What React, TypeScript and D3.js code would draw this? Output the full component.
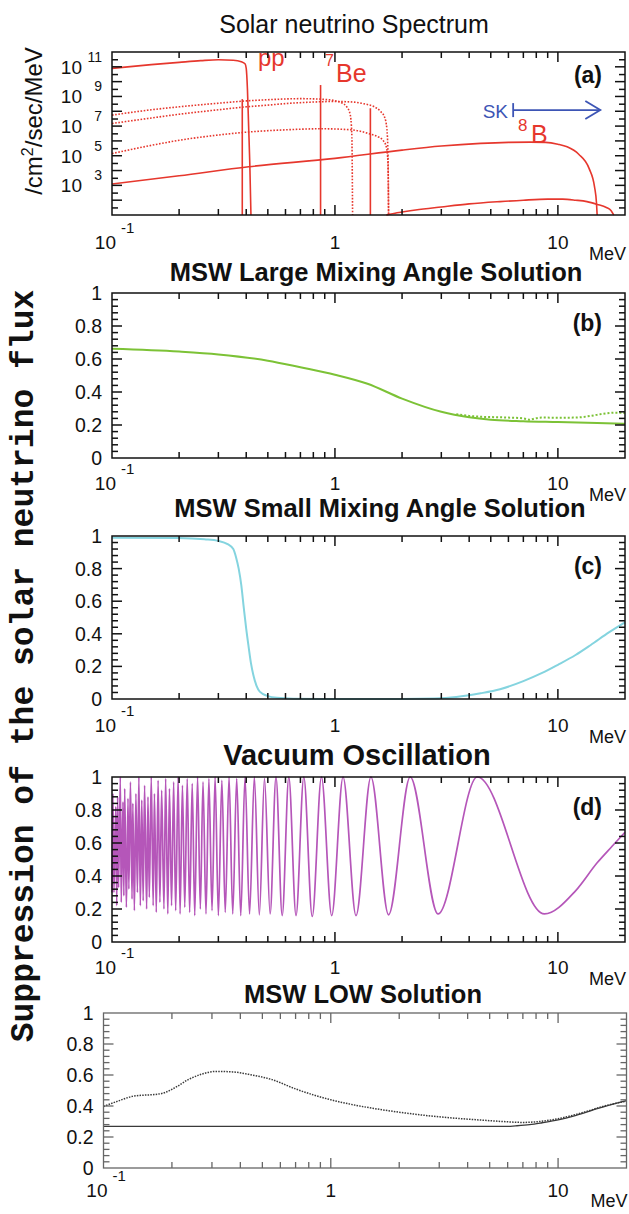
import React from "react";
import * as d3 from "d3";

type Pt = [number, number];

const SANS = "'Liberation Sans', Arial, Helvetica, sans-serif";
const MONO = "'Liberation Mono', 'Courier New', monospace";
const RED = "#e6372d";
const GREEN = "#7cc236";
const CYAN = "#84d4df";
const MAGENTA = "#b556b9";
const BLUE = "#3d55b5";
const DARK = "#3a3a3a";

// ---------- axis ticks / labels ----------
const X_MAJOR = [1, 10];
const X_MINOR = [0.2, 0.3, 0.4, 0.5, 0.6, 0.7, 0.8, 0.9, 2, 3, 4, 5, 6, 7, 8, 9];
const X_LABELS = [
  { v: 0.1, base: "10", exp: "-1" },
  { v: 1, base: "1", exp: "" },
  { v: 10, base: "10", exp: "" },
];
const FLUX_MAJOR = [1e2, 1e3, 1e4, 1e5, 1e6, 1e7, 1e8, 1e9, 1e10, 1e11];
const FLUX_MINOR = [3e1, 3e2, 3e3, 3e4, 3e5, 3e6, 3e7, 3e8, 3e9, 3e10, 3e11];
const FLUX_LABELS = [
  { v: 1e3, exp: "3" },
  { v: 1e5, exp: "5" },
  { v: 1e7, exp: "7" },
  { v: 1e9, exp: "9" },
  { v: 1e11, exp: "11" },
];
const FRAC_LABELS = [0, 0.2, 0.4, 0.6, 0.8, 1];
const FRAC_MAJOR = [0.2, 0.4, 0.6, 0.8];
const FRAC_MINOR = [0.04, 0.08, 0.12, 0.16, 0.24, 0.28, 0.32, 0.36, 0.44, 0.48, 0.52, 0.56, 0.64, 0.68, 0.72, 0.76, 0.84, 0.88, 0.92, 0.96];

// ---------- (a) solar neutrino spectrum: [E MeV, flux /cm2/sec/MeV] ----------
const PP_SPECTRUM: Pt[] = [[0.1, 7.9e10], [0.15, 1.4e11], [0.2, 2.0e11], [0.25, 2.6e11], [0.3, 3.0e11], [0.35, 2.8e11], [0.38, 2.2e11], [0.395, 1.6e11], [0.4, 7.9e10], [0.405, 3.2e9], [0.41, 1e7], [0.415, 3.2e4], [0.42, 10]];
const N13_SPECTRUM: Pt[] = [[0.1, 5.5e7], [0.15, 1.26e8], [0.2, 2.0e8], [0.3, 3.5e8], [0.4, 5.0e8], [0.5, 6.0e8], [0.6, 6.8e8], [0.7, 7.1e8], [0.8, 6.9e8], [0.9, 6.3e8], [1.0, 5.2e8], [1.08, 3.5e8], [1.13, 2.0e8], [1.17, 6.3e7], [1.19, 3.2e6], [1.2, 10]];
const O15_SPECTRUM: Pt[] = [[0.1, 1.5e7], [0.15, 3.5e7], [0.2, 6.3e7], [0.3, 1.26e8], [0.4, 2.0e8], [0.5, 2.6e8], [0.6, 3.3e8], [0.8, 4.2e8], [1.0, 4.6e8], [1.2, 4.2e8], [1.35, 3.2e8], [1.5, 2.0e8], [1.6, 1.0e8], [1.67, 4.0e7], [1.71, 6.3e6], [1.73, 1e5], [1.74, 10]];
const F17_SPECTRUM: Pt[] = [[0.1, 1.4e5], [0.15, 5e5], [0.2, 1.1e6], [0.3, 2.5e6], [0.41, 4e6], [0.6, 5.6e6], [0.87, 6.6e6], [1.1, 6e6], [1.3, 4.5e6], [1.45, 2.8e6], [1.55, 2e6], [1.65, 1e6], [1.7, 4e5], [1.73, 3e4], [1.74, 10]];
const B8_SPECTRUM: Pt[] = [[0.1, 1.25e3], [0.2, 4.4e3], [0.41, 1.8e4], [1, 6.6e4], [2, 2.4e5], [3, 4.5e5], [4.5, 6.8e5], [6, 8e5], [7.5, 8.3e5], [8.8, 8e5], [10, 6e5], [11, 4e5], [12.4, 1.26e5], [13.8, 1.4e4], [14.6, 8e2], [14.9, 63], [15, 10]];
const HEP_SPECTRUM: Pt[] = [[1.7, 10], [1.9, 14], [2.3, 22], [3, 35], [4, 56], [5.5, 80], [7, 100], [9, 117], [10.5, 117], [12, 100], [13.5, 80], [15, 52], [16.5, 32], [17.3, 20], [17.8, 10]];
const LINE_SOURCES = [
  { name: "7Be-384", E: 0.384, flux: 6.6e8 },
  { name: "7Be-862", E: 0.862, flux: 5.9e9 },
  { name: "pep", E: 1.442, flux: 1.6e8 },
];
const SK_THRESHOLD = 6.3;
const SK_ARROW_END = 15.5;
const SK_ARROW_LEVEL = 1.2e8;

// ---------- (b) MSW large mixing angle ----------
const LMA_SOLID: Pt[] = [[0.1, 0.662], [0.2, 0.645], [0.3, 0.628], [0.5, 0.59], [0.7, 0.55], [1, 0.505], [1.4, 0.45], [2, 0.36], [3, 0.28], [4, 0.247], [5, 0.232], [7, 0.223], [10, 0.218], [15, 0.212], [20, 0.207]];
const LMA_DOTTED: Pt[] = [[3.5, 0.265], [4, 0.255], [4.5, 0.25], [5, 0.248], [6, 0.245], [7, 0.24], [7.5, 0.232], [7.8, 0.238], [8.5, 0.245], [10, 0.244], [12, 0.245], [14, 0.255], [16, 0.268], [18, 0.275], [20, 0.273]];

// ---------- (c) MSW small mixing angle ----------
const SMA_CURVE: Pt[] = [[0.1, 0.99], [0.2, 0.988], [0.26, 0.98], [0.3, 0.97], [0.33, 0.95], [0.35, 0.92], [0.36, 0.87], [0.37, 0.8], [0.38, 0.7], [0.39, 0.56], [0.4, 0.43], [0.41, 0.32], [0.42, 0.22], [0.43, 0.15], [0.445, 0.08], [0.46, 0.045], [0.5, 0.018], [0.55, 0.007], [0.65, 0.002], [1, 0], [2, 0], [2.8, 0.003], [3.5, 0.012], [4.5, 0.035], [5.5, 0.06], [7, 0.11], [8.5, 0.16], [10, 0.21], [12, 0.27], [14, 0.33], [17, 0.41], [20, 0.47]];

// ---------- (d) vacuum oscillation: maxima / minima ----------
const VAC_MAX_E = [4.35, 2.175, 1.45, 1.0875, 0.87, 0.725, 0.621, 0.544, 0.483, 0.435, 0.395, 0.3625, 0.335, 0.311, 0.29, 0.272, 0.256, 0.242, 0.229, 0.2175, 0.207, 0.198, 0.189, 0.181, 0.174, 0.167, 0.161, 0.155, 0.15, 0.145, 0.14, 0.136, 0.132, 0.128, 0.124, 0.121, 0.118, 0.114, 0.112, 0.109, 0.106, 0.104, 0.101];
const VAC_MAX_P = [1, 1, 1, 1, 1, 1, 1, 1, 0.99, 1, 1, 0.99, 1, 0.98, 1, 0.99, 0.97, 1, 0.96, 0.99, 0.95, 1, 0.97, 0.93, 0.99, 0.92, 0.98, 0.9, 1, 0.88, 0.95, 0.86, 1, 0.9, 0.84, 0.97, 0.87, 0.93, 0.85, 1, 0.88, 0.82, 0.9];
const VAC_MIN_E = [8.7, 2.9, 1.74, 1.243, 0.967, 0.791, 0.669, 0.58, 0.512, 0.458, 0.414, 0.378, 0.348, 0.322, 0.3, 0.281, 0.264, 0.249, 0.235, 0.223, 0.212, 0.202, 0.193, 0.185, 0.178, 0.171, 0.164, 0.158, 0.153, 0.147, 0.143, 0.138, 0.134, 0.13, 0.126, 0.123, 0.119, 0.116, 0.113, 0.11, 0.107, 0.105, 0.102];
const VAC_MIN_P = [0.17, 0.17, 0.165, 0.16, 0.16, 0.155, 0.16, 0.16, 0.17, 0.165, 0.17, 0.16, 0.17, 0.18, 0.16, 0.19, 0.17, 0.2, 0.16, 0.18, 0.21, 0.17, 0.19, 0.22, 0.17, 0.2, 0.24, 0.18, 0.22, 0.27, 0.2, 0.25, 0.22, 0.3, 0.19, 0.26, 0.32, 0.21, 0.28, 0.24, 0.33, 0.22, 0.3];
const VAC_ENDS: Pt[] = [[0.1, 0.3], [12, 0.31], [15, 0.48], [17.5, 0.58], [20, 0.665]];

// ---------- (e) MSW LOW ----------
const LOW_SOLID: Pt[] = [[0.1, 0.268], [5.9, 0.268], [6.5, 0.272], [7.5, 0.28], [8.5, 0.292], [10, 0.31], [12, 0.34], [15, 0.385], [20, 0.435]];
const LOW_DOTTED: Pt[] = [[0.1, 0.397], [0.115, 0.43], [0.134, 0.462], [0.15, 0.47], [0.165, 0.473], [0.185, 0.485], [0.21, 0.525], [0.236, 0.57], [0.27, 0.605], [0.313, 0.623], [0.37, 0.62], [0.45, 0.6], [0.552, 0.57], [0.7, 0.51], [1, 0.44], [1.4, 0.395], [2, 0.36], [3, 0.33], [4.5, 0.31], [6, 0.298], [7, 0.294], [8, 0.298], [10, 0.318], [13, 0.36], [16, 0.4], [20, 0.432]];

type Box = { left: number; right: number; top: number; bottom: number };
const BOX_A: Box = { left: 112, right: 625, top: 52, bottom: 215 };
const BOX_B: Box = { left: 112, right: 625, top: 293, bottom: 458 };
const BOX_C: Box = { left: 112, right: 625, top: 536, bottom: 699 };
const BOX_D: Box = { left: 112, right: 625, top: 777, bottom: 942 };
const BOX_E: Box = { left: 103.5, right: 626.5, top: 1013, bottom: 1168 };

const E_DOMAIN: [number, number] = [0.1, 20];

function Frame({ box, x, y, yMajor, yMinor, color, width }: any) {
  const els: any[] = [];
  const M = 10, m = 6;
  let k = 0;
  const vt = (px: number, len: number) => {
    els.push(<line key={k++} x1={px} x2={px} y1={box.bottom} y2={box.bottom - len} />);
    els.push(<line key={k++} x1={px} x2={px} y1={box.top} y2={box.top + len} />);
  };
  const ht = (py: number, len: number) => {
    els.push(<line key={k++} x1={box.left} x2={box.left + len} y1={py} y2={py} />);
    els.push(<line key={k++} x1={box.right} x2={box.right - len} y1={py} y2={py} />);
  };
  X_MAJOR.forEach((v) => vt(x(v), M));
  X_MINOR.forEach((v) => vt(x(v), m));
  yMajor.forEach((v: number) => ht(y(v), M));
  yMinor.forEach((v: number) => ht(y(v), m));
  return (
    <g stroke={color} strokeWidth={width} fill="none">
      {els}
      <rect x={box.left} y={box.top} width={box.right - box.left} height={box.bottom - box.top} />
    </g>
  );
}

function XLabels({ box, x, dy, mevDy, color }: any) {
  return (
    <g fontFamily={SANS} fill={color}>
      {X_LABELS.map((l) =>
        l.exp ? (
          <g key={l.v}>
            <text x={x(l.v) + 4} y={box.bottom + dy} fontSize={19} textAnchor="end">{l.base}</text>
            <text x={x(l.v) + 9} y={box.bottom + dy - 16} fontSize={15}>{l.exp}</text>
          </g>
        ) : (
          <text key={l.v} x={x(l.v)} y={box.bottom + dy} fontSize={19} textAnchor="middle">{l.base}</text>
        )
      )}
      <text x={box.right + 1} y={box.bottom + mevDy} fontSize={18} textAnchor="end">MeV</text>
    </g>
  );
}

function FracLabels({ box, y }: any) {
  return (
    <g fontFamily={SANS} fill="#111" fontSize={19.5} textAnchor="end">
      {FRAC_LABELS.map((v) => (
        <text key={v} x={box.left - 10} y={y(v) + 7}>{String(v)}</text>
      ))}
    </g>
  );
}

function FracPanel({ box, title, titleX, titleY, titleSize, tag, children, frameColor, frameWidth, labelDy, mevDy }: any) {
  const x = d3.scaleLog().domain(E_DOMAIN).range([box.left, box.right]);
  const y = d3.scaleLinear().domain([0, 1]).range([box.bottom, box.top]);
  return (
    <g>
      <text x={titleX} y={titleY} fontFamily={SANS} fontWeight="bold" fontSize={titleSize} textAnchor="middle" fill="#111">{title}</text>
      {children(x, y)}
      <Frame box={box} x={x} y={y} yMajor={FRAC_MAJOR} yMinor={FRAC_MINOR} color={frameColor} width={frameWidth} />
      {tag ? (
        <text x={602} y={box.top + 38} fontFamily={SANS} fontWeight="bold" fontSize={23} textAnchor="end" fill="#111">{tag}</text>
      ) : null}
      <FracLabels box={box} y={y} />
      <XLabels box={box} x={x} dy={labelDy} mevDy={mevDy} color="#111" />
    </g>
  );
}

export default function App() {
  // panel (a)
  const xa = d3.scaleLog().domain(E_DOMAIN).range([BOX_A.left, BOX_A.right]);
  const ya = d3.scaleLog().domain([10, 1e12]).range([BOX_A.bottom, BOX_A.top]);
  const lineA = d3.line<Pt>().x((d) => xa(d[0])).y((d) => ya(d[1])).curve(d3.curveMonotoneX);

  const mkLine = (x: any, y: any) => d3.line<Pt>().x((d) => x(d[0])).y((d) => y(d[1])).curve(d3.curveMonotoneX);

  const vacPoints: Pt[] = [
    ...VAC_ENDS,
    ...VAC_MAX_E.map((e, i) => [e, VAC_MAX_P[i]] as Pt),
    ...VAC_MIN_E.map((e, i) => [e, VAC_MIN_P[i]] as Pt),
  ].sort((a, b) => a[0] - b[0]);

  const skY = ya(SK_ARROW_LEVEL);

  return (
    <svg width={629} height={1214} style={{ position: "absolute", left: 0, top: 0, background: "#fff" }} xmlns="http://www.w3.org/2000/svg">
      <rect x={0} y={0} width={629} height={1214} fill="#fff" />

      {/* big y label */}
      <text transform="translate(33,666) rotate(-90)" fontFamily={MONO} fontWeight="bold" fontSize={33} textAnchor="middle" fill="#111">
        Suppression of the solar neutrino flux
      </text>

      {/* ===== panel (a) ===== */}
      <text x={354} y={33} fontFamily={SANS} fontSize={25} textAnchor="middle" fill="#111">Solar neutrino Spectrum</text>
      <text transform="translate(42,121) rotate(-90)" fontFamily={SANS} fontSize={24} textAnchor="middle" fill="#111">
        /cm<tspan fontSize={16} dy={-9}>2</tspan><tspan dy={9}>/sec/MeV</tspan>
      </text>
      <g fill="none" stroke={RED} strokeWidth={1.6}>
        <path d={lineA(PP_SPECTRUM) || ""} />
        <path d={lineA(B8_SPECTRUM) || ""} />
        <path d={lineA(HEP_SPECTRUM) || ""} />
        <g strokeDasharray="1.6 1.6">
          <path d={lineA(N13_SPECTRUM) || ""} />
          <path d={lineA(O15_SPECTRUM) || ""} />
          <path d={lineA(F17_SPECTRUM) || ""} />
        </g>
        {LINE_SOURCES.map((s) => (
          <line key={s.name} x1={xa(s.E)} x2={xa(s.E)} y1={ya(10)} y2={ya(s.flux)} />
        ))}
      </g>
      <g stroke={BLUE} strokeWidth={1.8} fill="none">
        <line x1={xa(SK_THRESHOLD)} x2={xa(SK_ARROW_END)} y1={skY} y2={skY} />
        <line x1={xa(SK_THRESHOLD)} x2={xa(SK_THRESHOLD)} y1={skY - 7} y2={skY + 7} />
        <polyline points={`${xa(SK_ARROW_END) - 15},${skY - 9} ${xa(SK_ARROW_END)},${skY} ${xa(SK_ARROW_END) - 15},${skY + 9}`} />
      </g>
      <text x={508} y={118} fontFamily={SANS} fontSize={19} textAnchor="end" fill={BLUE}>SK</text>
      <g fontFamily={SANS} fill={RED}>
        <text x={258} y={66} fontSize={24}>pp</text>
        <text x={325} y={66} fontSize={16}>7</text>
        <text x={336} y={82} fontSize={25}>Be</text>
        <text x={518} y={131} fontSize={17}>8</text>
        <text x={531} y={143} fontSize={25}>B</text>
      </g>
      <Frame box={BOX_A} x={xa} y={ya} yMajor={FLUX_MAJOR} yMinor={FLUX_MINOR} color="#111" width={1.5} />
      <text x={602} y={83} fontFamily={SANS} fontWeight="bold" fontSize={23} textAnchor="end" fill="#111">(a)</text>
      <g fontFamily={SANS} fill="#111">
        {FLUX_LABELS.map((l) => (
          <g key={l.exp}>
            <text x={BOX_A.left - 30} y={ya(l.v) + 7} fontSize={19} textAnchor="end">10</text>
            <text x={BOX_A.left - 10} y={ya(l.v) - 5} fontSize={14} textAnchor="end">{l.exp}</text>
          </g>
        ))}
      </g>
      <XLabels box={BOX_A} x={xa} dy={34} mevDy={45} color="#111" />

      {/* ===== panel (b) ===== */}
      <FracPanel box={BOX_B} title="MSW Large Mixing Angle Solution" titleX={376} titleY={281} titleSize={25.5} tag="(b)" frameColor="#111" frameWidth={1.5} labelDy={32} mevDy={43}>
        {(x: any, y: any) => (
          <g fill="none" stroke={GREEN} strokeWidth={2}>
            <path d={mkLine(x, y)(LMA_DOTTED) || ""} strokeDasharray="2 2" />
            <path d={mkLine(x, y)(LMA_SOLID) || ""} />
          </g>
        )}
      </FracPanel>

      {/* ===== panel (c) ===== */}
      <FracPanel box={BOX_C} title="MSW Small Mixing Angle Solution" titleX={380} titleY={517} titleSize={25.5} tag="(c)" frameColor="#111" frameWidth={1.5} labelDy={33} mevDy={44}>
        {(x: any, y: any) => (
          <path d={mkLine(x, y)(SMA_CURVE) || ""} fill="none" stroke={CYAN} strokeWidth={2} />
        )}
      </FracPanel>

      {/* ===== panel (d) ===== */}
      <FracPanel box={BOX_D} title="Vacuum Oscillation" titleX={357} titleY={765} titleSize={29} tag="(d)" frameColor="#111" frameWidth={1.5} labelDy={32} mevDy={43}>
        {(x: any, y: any) => (
          <path d={mkLine(x, y)(vacPoints) || ""} fill="none" stroke={MAGENTA} strokeWidth={1.7} />
        )}
      </FracPanel>

      {/* ===== panel (e) ===== */}
      <FracPanel box={BOX_E} title="MSW LOW Solution" titleX={363} titleY={1003} titleSize={25.5} tag="" frameColor="#666" frameWidth={1.3} labelDy={29} mevDy={39}>
        {(x: any, y: any) => (
          <g fill="none" stroke={DARK}>
            <path d={mkLine(x, y)(LOW_DOTTED) || ""} strokeWidth={1.5} strokeDasharray="1.5 1.2" />
            <path d={mkLine(x, y)(LOW_SOLID) || ""} strokeWidth={1.3} />
          </g>
        )}
      </FracPanel>
    </svg>
  );
}
